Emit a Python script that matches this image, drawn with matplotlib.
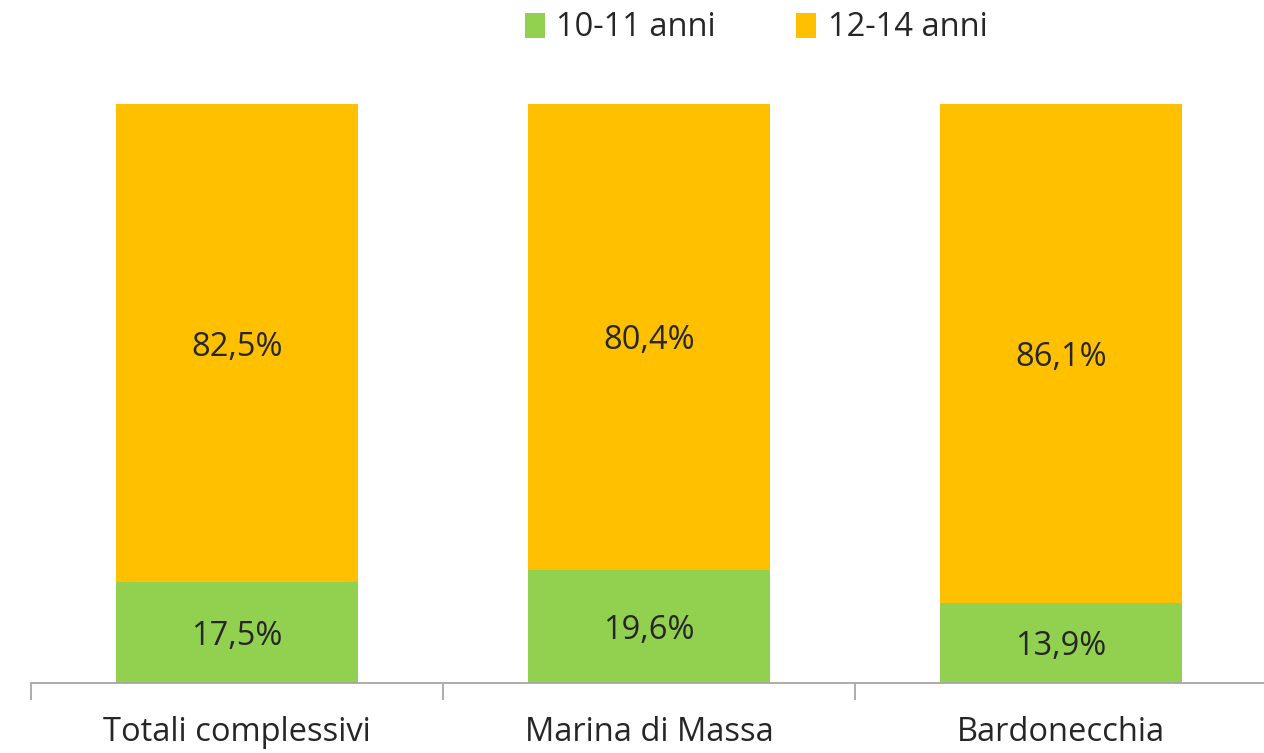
import matplotlib.pyplot as plt
import numpy as np

categories = ['Totali complessivi', 'Marina di Massa', 'Bardonecchia']
age_10_11 = [17.5, 19.6, 13.9]
age_12_14 = [82.5, 80.4, 86.1]
series_names = ['10-11 anni', '12-14 anni']

plt.rcParams['font.family'] = ['Open Sans', 'DejaVu Sans']
green = '#92D050'
yellow = '#FFC000'
txt = '#262626'
fs = 23.5

fig = plt.figure(figsize=(12.64, 7.53), dpi=100)
ax = fig.add_axes([31 / 1264, 70 / 753, 1236 / 1264, 579 / 753])

x = np.arange(len(categories))
w = 0.587
b1 = ax.bar(x, age_10_11, w, color=green, label=series_names[0])
b2 = ax.bar(x, age_12_14, w, bottom=age_10_11, color=yellow, label=series_names[1])

for xi, v1, v2 in zip(x, age_10_11, age_12_14):
    ax.annotate(f'{v1:.1f}%'.replace('.', ','), (xi, v1 / 2), xytext=(0, -3),
                textcoords='offset points', ha='center', va='center', fontsize=fs, color=txt)
    ax.annotate(f'{v2:.1f}%'.replace('.', ','), (xi, v1 + v2 / 2), xytext=(0, -3),
                textcoords='offset points', ha='center', va='center', fontsize=fs, color=txt)

ax.set_xlim(-0.5, 2.5)
ax.set_ylim(0, 100)
ax.set_yticks([])
for s in ['top', 'right', 'left']:
    ax.spines[s].set_visible(False)
ax.spines['bottom'].set_color('#A6A6A6')
ax.spines['bottom'].set_linewidth(1.3)
ax.set_xticks(np.arange(-0.5, 3, 1), minor=False)
ax.set_xticklabels([])
ax.tick_params(axis='x', which='major', length=12, width=1.3, color='#A6A6A6', direction='out')
ax.set_xticks(x, minor=True)
ax.set_xticklabels(categories, minor=True, fontsize=fs, color=txt)
ax.tick_params(axis='x', which='minor', length=0, pad=24)

fig.legend(handles=[b1, b2], loc='center', bbox_to_anchor=(756 / 1264, 1 - 28 / 753),
           ncol=2, frameon=False, fontsize=fs, handlelength=0.62, handleheight=0.8,
           handletextpad=0.35, columnspacing=2.45, labelcolor=txt)

fig.savefig('out.png', dpi=100)
